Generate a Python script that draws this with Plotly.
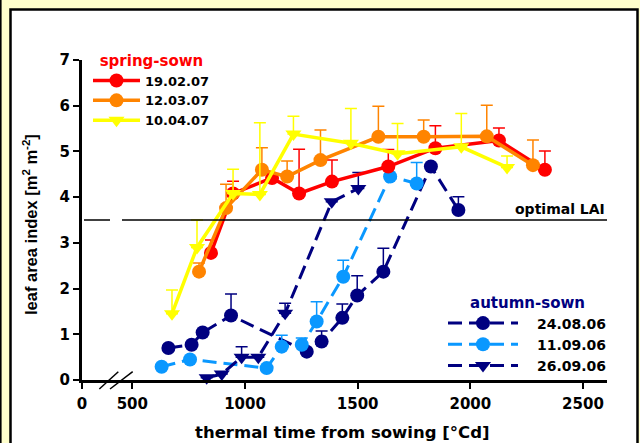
import plotly.graph_objects as go

# ---------------- data ----------------
# spring-sown
red_x = [849, 947, 1120, 1240, 1386, 1636, 1845, 2127, 2331]
red_y = [2.78, 4.08, 4.42, 4.08, 4.34, 4.67, 5.07, 5.24, 4.60]
red_e = [0.28, 0.27, 0.08, 0.97, 0.47, 0.37, 0.49, 0.27, 0.41]

orange_x = [796, 916, 1075, 1187, 1335, 1592, 1793, 2073, 2278]
orange_y = [2.37, 3.76, 4.60, 4.45, 4.81, 5.32, 5.32, 5.33, 4.70]
orange_e = [0.19, 0.52, 0.48, 0.34, 0.66, 0.67, 0.37, 0.68, 0.55]

yellow_x = [676, 787, 947, 1066, 1215, 1470, 1677, 1960, 2163]
yellow_y = [1.45, 2.90, 4.08, 4.06, 5.38, 5.18, 4.95, 5.10, 4.65]
yellow_e = [0.52, 0.60, 0.53, 1.57, 0.39, 0.76, 0.66, 0.73, 0.25]

# autumn-sown
aug_x = [660, 763, 812, 938, 1274, 1340, 1432, 1498, 1614, 1825, 1947]
aug_y = [0.70, 0.77, 1.04, 1.41, 0.62, 0.84, 1.36, 1.85, 2.37, 4.67, 3.72]
aug_e = [0, 0, 0, 0.47, 0, 0.23, 0.30, 0.43, 0.51, 0, 0.29]

sep11_x = [630, 756, 1096, 1163, 1252, 1318, 1436, 1644, 1762]
sep11_y = [0.29, 0.45, 0.26, 0.73, 0.77, 1.28, 2.26, 4.45, 4.30]
sep11_e = [0, 0, 0, 0.25, 0.15, 0.43, 0.36, 0, 0.46]

sep26_x = [830, 897, 985, 1059, 1178, 1385, 1503]
sep26_y = [0.05, 0.13, 0.50, 0.50, 1.46, 3.90, 4.19]
sep26_e = [0, 0, 0.23, 0, 0.22, 0, 0.35]

optimal_lai = 3.5

x_tick_vals = [276.6, 500, 1000, 1500, 2000, 2500]
x_tick_text = ["0", "500", "1000", "1500", "2000", "2500"]
x_range = [276.6, 2606.6]
y_range = [0, 7]

# ---------------- style ----------------
FONT = "DejaVu Sans"
RED = "#FF0000"
ORANGE = "#FF8400"
YELLOW = "#FFFF00"
NAVY = "#000080"
LBLUE = "#0A98FF"

W, H = 640, 443
ML, MR, MT, MB = 82, 33, 60, 63
PW, PH = W - ML - MR, H - MT - MB


def px2x(px):
    return (px - ML) / PW


def px2y(py):
    return (H - MB - py) / PH


fig = go.Figure()


def add_series(x, y, e, name, color, symbol, dash, width, legend):
    fig.add_trace(go.Scatter(
        x=x, y=y, name=name, mode="lines+markers",
        line=dict(color=color, width=width, dash=dash),
        marker=dict(color=color, size=14, symbol=symbol),
        error_y=dict(type="data", symmetric=False, array=e,
                     arrayminus=[0] * len(e), color=color,
                     thickness=1.5, width=6),
        legend=legend, cliponaxis=False,
    ))


DASH = "14px,7px"
PAD = "\u2002\u2002"
add_series(aug_x, aug_y, aug_e, PAD + "24.08.06", NAVY, "circle", DASH, 3, "legend2")
add_series(sep11_x, sep11_y, sep11_e, PAD + "11.09.06", LBLUE, "circle", DASH, 3, "legend2")
add_series(sep26_x, sep26_y, sep26_e, PAD + "26.09.06", NAVY, "triangle-down", DASH, 3, "legend2")
add_series(red_x, red_y, red_e, "19.02.07", RED, "circle", "solid", 3.5, "legend")
add_series(orange_x, orange_y, orange_e, "12.03.07", ORANGE, "circle", "solid", 3.5, "legend")
add_series(yellow_x, yellow_y, yellow_e, "10.04.07", YELLOW, "triangle-down", "solid", 3.5, "legend")

tickfont = dict(family=FONT, size=15, color="black", weight="bold")

fig.update_xaxes(range=x_range, tickmode="array", tickvals=x_tick_vals,
                 ticktext=x_tick_text, showline=True, linecolor="black",
                 linewidth=3, ticks="outside", ticklen=6, tickwidth=2,
                 tickcolor="black", showgrid=False, zeroline=False,
                 tickfont=tickfont, ticklabelstandoff=2)
fig.update_yaxes(range=y_range, dtick=1, showline=True, linecolor="black",
                 linewidth=3, ticks="outside", ticklen=6, tickwidth=2,
                 tickcolor="black", showgrid=False, zeroline=False,
                 tickfont=tickfont)

shapes = [
    # white panel with black border
    dict(type="rect", xref="paper", yref="paper", layer="below",
         x0=px2x(10.5), x1=px2x(637.5), y0=px2y(470), y1=px2y(9.5),
         line=dict(color="black", width=2.5), fillcolor="white"),
    # outer left line
    dict(type="line", xref="paper", yref="paper", layer="below",
         x0=px2x(0.8), x1=px2x(0.8), y0=px2y(0), y1=px2y(470),
         line=dict(color="black", width=1.6)),
    # optimal LAI line (broken)
    dict(type="line", xref="paper", yref="y", x0=px2x(84), x1=px2x(110),
         y0=optimal_lai, y1=optimal_lai, line=dict(color="black", width=1.5)),
    dict(type="line", xref="paper", yref="y", x0=px2x(122), x1=1,
         y0=optimal_lai, y1=optimal_lai, line=dict(color="black", width=1.5)),
    # axis break marks
    dict(type="line", xref="paper", yref="paper", x0=px2x(99.3), y0=px2y(389),
         x1=px2x(118.3), y1=px2y(371.7), line=dict(color="black", width=1.5)),
    dict(type="line", xref="paper", yref="paper", x0=px2x(110), y0=px2y(389),
         x1=px2x(132.7), y1=px2y(371.7), line=dict(color="black", width=1.5)),
]

annotations = [
    dict(text="optimal LAI", xref="paper", yref="y", x=1, y=optimal_lai,
         xanchor="right", yanchor="bottom", yshift=1, showarrow=False,
         font=dict(family=FONT, size=14, color="black", weight="bold")),
    dict(text="thermal time from sowing [°Cd]", xref="paper", yref="paper",
         x=px2x(342.5), y=px2y(432), xanchor="center", yanchor="middle",
         showarrow=False,
         font=dict(family=FONT, size=16.5, color="black", weight="bold")),
    dict(text="leaf area index [m<sup>2</sup> m<sup>-2</sup>]", xref="paper",
         yref="paper", x=px2x(30), y=px2y(225), xanchor="center",
         yanchor="middle", textangle=-90, showarrow=False,
         font=dict(family="Liberation Sans", size=16.5, color="black",
                   weight="bold")),
]

fig.update_layout(
    width=W, height=H,
    margin=dict(l=ML, r=MR, t=MT, b=MB),
    paper_bgcolor="#FFFFCC", plot_bgcolor="white",
    shapes=shapes, annotations=annotations,
    legend=dict(x=px2x(88), y=px2y(46), xanchor="left", yanchor="top",
                bgcolor="rgba(0,0,0,0)", itemwidth=47,
                font=dict(family=FONT, size=13, color="black", weight="bold"),
                title=dict(text="spring-sown", side="top center",
                           font=dict(family=FONT, size=15, color=RED,
                                     weight="bold"))),
    legend2=dict(x=px2x(443), y=px2y(288), xanchor="left", yanchor="top",
                 bgcolor="rgba(0,0,0,0)", itemwidth=70,
                 font=dict(family=FONT, size=14, color="black", weight="bold"),
                 title=dict(text="autumn-sown", side="top center",
                            font=dict(family=FONT, size=15, color=NAVY,
                                      weight="bold"))),
    showlegend=True,
)

fig.write_html("out.html", config={"displayModeBar": False},
               post_script="document.body.style.margin='0';"
                           "document.body.style.overflow='hidden';")
